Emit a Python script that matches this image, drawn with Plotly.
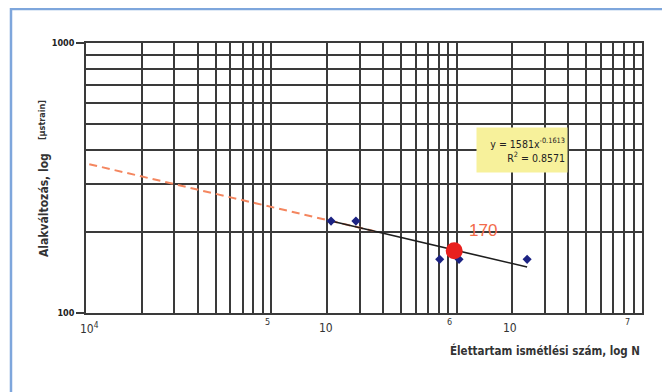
import plotly.graph_objects as go

# ---- data ----
cycles = [2.1e5, 2.86e5, 8.1e5, 1.03e6, 2.4e6]
strain = [219, 219, 158, 158, 158]

trend_x = [2.1e5, 2.4e6]
trend_y = [219, 148]

extrap_x = [8.9e3, 3.6e5]
extrap_y = [365, 201]

highlight_x = [9.7e5]
highlight_y = [170]
highlight_label = "170"

y_major = [100, 1000]
y_major_text = ["<b>100</b>", "<b>1000</b>"]
y_minor = [200, 300, 400, 500, 600, 700, 800, 900]
x_major = [1e4, 1e5, 1e6, 1e7]
x_minor = [m * 10 ** e for e in (4, 5, 6) for m in range(2, 10)]

equation = "y = 1581x<sup>-0.1613</sup><br>R<sup>2</sup> = 0.8571"
x_title = "<b>Élettartam ismétlési szám, log N</b>"
y_title_a = "<b>Alakváltozás, log</b>"
y_title_b = "<b>[μstrain]</b>"

# x tick label fragments (as printed in the source) at log10 positions
xlab_text = ["10<sup>4</sup>", "5", "10", "6", "10", "7"]
xlab_pos = [4.02, 4.98, 5.295, 5.964, 6.288, 6.92]
xlab_size = [12, 9, 12, 9, 12, 9]
xlab_shift = [-15, -9, -15, -9, -15, -9]

FONT = "Liberation Sans Narrow, DejaVu Sans Condensed, Liberation Sans, Arial"
GRID = "#3a3a3a"

fig = go.Figure()
fig.add_trace(go.Scatter(x=extrap_x, y=extrap_y, mode="lines",
                         line=dict(color="#f4865f", width=2, dash="8px,5px"),
                         hoverinfo="skip"))
fig.add_trace(go.Scatter(x=trend_x, y=trend_y, mode="lines",
                         line=dict(color="#1e1e1e", width=1.6)))
fig.add_trace(go.Scatter(x=cycles, y=strain, mode="markers",
                         marker=dict(symbol="diamond", size=7, color="#1c2383")))
fig.add_trace(go.Scatter(x=highlight_x, y=highlight_y, mode="markers",
                         marker=dict(size=17, color="#e8201e")))

annotations = [
    dict(x=6.142, y=2.307, xref="x", yref="y", text=highlight_label, showarrow=False,
         font=dict(size=17, color="#f26b4a", family="Liberation Sans, Arial")),
    dict(x=6.353, y=2.604, xref="x", yref="y", text=equation, showarrow=False,
         bgcolor="#f7f19b", width=86, height=40, align="right", borderpad=2,
         font=dict(size=10.5, color="#222", family=FONT)),
    dict(x=1.0, y=0, xref="paper", yref="paper", xanchor="right", yanchor="middle",
         yshift=-37, text=x_title, showarrow=False,
         font=dict(size=11.5, color="#333", family=FONT)),
    dict(x=-0.0917, y=0.4, xref="paper", yref="paper", text=y_title_a, textangle=-90,
         showarrow=False, font=dict(size=12, color="#333", family=FONT)),
    dict(x=-0.0917, y=0.796, xref="paper", yref="paper", text=y_title_b, textangle=-90,
         showarrow=False, font=dict(size=9, color="#333", family=FONT)),
]
for t, p, s, sh in zip(xlab_text, xlab_pos, xlab_size, xlab_shift):
    annotations.append(dict(x=p, y=0, xref="x", yref="paper", yanchor="middle", yshift=sh,
                            text=t, showarrow=False,
                            font=dict(size=s, color="#333", family=FONT)))

fig.update_layout(
    width=662, height=384,
    margin=dict(l=78, r=28, t=35, b=79),
    paper_bgcolor="white", plot_bgcolor="white",
    showlegend=False,
    font=dict(family=FONT, color="#333"),
    annotations=annotations,
    shapes=[dict(type="rect", xref="paper", yref="paper",
                 x0=-0.1349, x1=1.0396, y0=-0.32, y1=1.126,
                 line=dict(color="#7ea6dc", width=2.5), layer="below")],
    xaxis=dict(type="log", range=[4, 7], tickvals=x_major, ticktext=["", "", "", ""],
               ticks="", showgrid=True, gridcolor=GRID, gridwidth=1.5,
               showline=True, mirror=True, linecolor=GRID, linewidth=1.6,
               zeroline=False,
               minor=dict(tickvals=x_minor, showgrid=True, gridcolor=GRID,
                          gridwidth=1.5, ticks="")),
    yaxis=dict(type="log", range=[2, 3], tickvals=y_major, ticktext=y_major_text,
               ticks="outside", ticklen=8, tickcolor=GRID, tickwidth=1.5,
               tickfont=dict(size=9, color="#222", family=FONT),
               showgrid=True, gridcolor=GRID, gridwidth=1.5,
               showline=True, mirror=True, linecolor=GRID, linewidth=1.6,
               zeroline=False,
               minor=dict(tickvals=y_minor, showgrid=True, gridcolor=GRID,
                          gridwidth=1.5, ticks="")),
)

fig.write_html("out.html")
